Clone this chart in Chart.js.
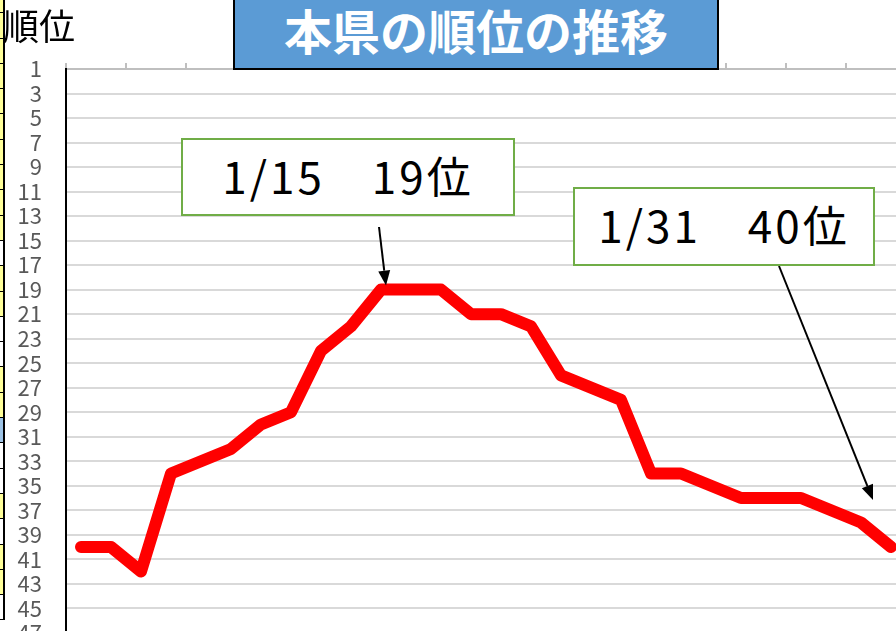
<!DOCTYPE html>
<html lang="ja">
<head>
<meta charset="utf-8">
<title>本県の順位の推移</title>
<script src="https://cdn.jsdelivr.net/npm/chart.js@4.4.1/dist/chart.umd.min.js"></script>
<style>
  html, body { margin: 0; padding: 0; background: #fff; }
  body { width: 896px; height: 631px; overflow: hidden; position: relative; font-family: 'Noto Sans CJK JP', sans-serif; }
  #chart { position: absolute; left: 0; top: 0; }
  #strip { position: absolute; left: 0; top: -12px; width: 3px; border-right: 2px solid #000; }
  #strip div { height: 24.3px; border-bottom: 1px solid #000; }
  .yname { position: absolute; left: 3px; top: 4px; font-size: 36px; line-height: 40px; color: #000; }
  .title { position: absolute; left: 233px; top: -4px; width: 482px; height: 70px; background: #5b9bd5;
           border: 2px solid #000; color: #fff; font-weight: bold; font-size: 48px; line-height: 62px; text-align: center; }
  .note { position: absolute; background: #fff; border: 2px solid #70ad47; color: #000;
          font-size: 44px; text-align: center; letter-spacing: 3px; }
</style>
</head>
<body>
<div id="strip"></div>
<canvas id="chart" width="910" height="670"></canvas>
<div class="yname">順位</div>
<div class="title">本県の順位の推移</div>
<div class="note" style="left:181px; top:138px; width:330px; height:74px; line-height:70px;">1/15　19位</div>
<div class="note" style="left:573px; top:187px; width:298px; height:75px; line-height:71px;">1/31　40位</div>
<script>
// --- データ ---
const dates = ['1/4', '1/5', '1/6', '1/7', '1/8', '1/9', '1/10', '1/11', '1/12', '1/13',
               '1/14', '1/15', '1/16', '1/17', '1/18', '1/19', '1/20', '1/21', '1/22', '1/23',
               '1/24', '1/25', '1/26', '1/27', '1/28', '1/29', '1/30', '1/31'];
const ranks = [40, 40, 42, 34, 33, 32, 30, 29, 24, 22,
               19, 19, 19, 21, 21, 22, 26, 27, 28, 34,
               34, 35, 36, 36, 36, 37, 38, 40];
const rankTicks = [1, 3, 5, 7, 9, 11, 13, 15, 17, 19, 21, 23, 25, 27, 29, 31,
                   33, 35, 37, 39, 41, 43, 45, 47];
// 吹き出しの矢印が指す日 (dates の添字)
const noteDays = [11, 27];

// 左端に見えているセルの色
const stripColors = ['#ffff99', '#ffff99', '#ffff99', '#ffff99', '#ffff99', '#ffff99', '#ffff99', '#ffff99', '#ffff99',
                     '#ffff99', '#fff', '#ffff99', '#ffff99', '#fff', '#fff', '#ffff99', '#ffff99', '#9dc3e6',
                     '#fff', '#fff', '#ffff99', '#fff', '#ffff99', '#ffff99', '#fff'];
const stripEl = document.getElementById('strip');
stripColors.forEach(c => {
    const cell = document.createElement('div');
    cell.style.background = c;
    stripEl.appendChild(cell);
});

// 矢印 (吹き出しから点へ)
const arrowTails = [[379, 227], [779, 266]];
const arrowOffsets = [[-25, -4], [-18, -47]];

const arrowPlugin = {
    id: 'arrows',
    afterDatasetsDraw(chart) {
        const { ctx, scales: { x, y } } = chart;
        ctx.save();
        ctx.strokeStyle = '#000';
        ctx.fillStyle = '#000';
        ctx.lineWidth = 2;
        noteDays.forEach((d, i) => {
            const [tx, ty] = arrowTails[i];
            const hx = x.getPixelForValue(d) + arrowOffsets[i][0];
            const hy = y.getPixelForValue(ranks[d]) + arrowOffsets[i][1];
            const ang = Math.atan2(hy - ty, hx - tx);
            const len = 15, half = 6;
            const bx = hx - len * Math.cos(ang), by = hy - len * Math.sin(ang);
            ctx.beginPath();
            ctx.moveTo(tx, ty);
            ctx.lineTo(bx, by);
            ctx.stroke();
            ctx.beginPath();
            ctx.moveTo(hx, hy);
            ctx.lineTo(bx + half * Math.sin(ang), by - half * Math.cos(ang));
            ctx.lineTo(bx - half * Math.sin(ang), by + half * Math.cos(ang));
            ctx.closePath();
            ctx.fill();
        });
        ctx.restore();
    }
};

new Chart(document.getElementById('chart'), {
    type: 'line',
    data: {
        datasets: [{
            label: '順位',
            data: dates.map((d, i) => ({ x: i, y: ranks[i] })),
            borderColor: '#ff0000',
            borderWidth: 12,
            borderJoinStyle: 'round',
            borderCapStyle: 'round',
            pointRadius: 0,
            tension: 0
        }]
    },
    options: {
        responsive: false,
        animation: false,
        devicePixelRatio: 1,
        layout: { padding: { left: 0, right: 4, top: 0, bottom: 0 } },
        plugins: { legend: { display: false }, tooltip: { enabled: false } },
        scales: {
            x: {
                type: 'linear',
                position: 'top',
                min: -0.5,
                max: dates.length - 0.5,
                afterFit: s => { s.height = 69; },
                afterBuildTicks: s => {
                    const t = [];
                    for (let i = 0; i <= dates.length; i += 2) t.push({ value: i - 0.5 });
                    s.ticks = t;
                },
                ticks: { display: false },
                grid: { drawOnChartArea: false, drawTicks: true, tickLength: 6, color: '#bfbfbf', lineWidth: 2 },
                border: { color: '#bfbfbf', width: 2 }
            },
            y: {
                reverse: true,
                min: 1,
                max: 47,
                afterFit: s => { s.width = 66; },
                afterBuildTicks: s => { s.ticks = rankTicks.map(v => ({ value: v })); },
                ticks: {
                    autoSkip: false,
                    padding: 24,
                    color: '#595959',
                    font: { family: "'Noto Sans CJK JP', sans-serif", size: 22 }
                },
                grid: { drawTicks: false, color: '#d9d9d9', lineWidth: 2 },
                border: { color: '#000', width: 2 }
            }
        }
    },
    plugins: [arrowPlugin]
});
</script>
</body>
</html>
